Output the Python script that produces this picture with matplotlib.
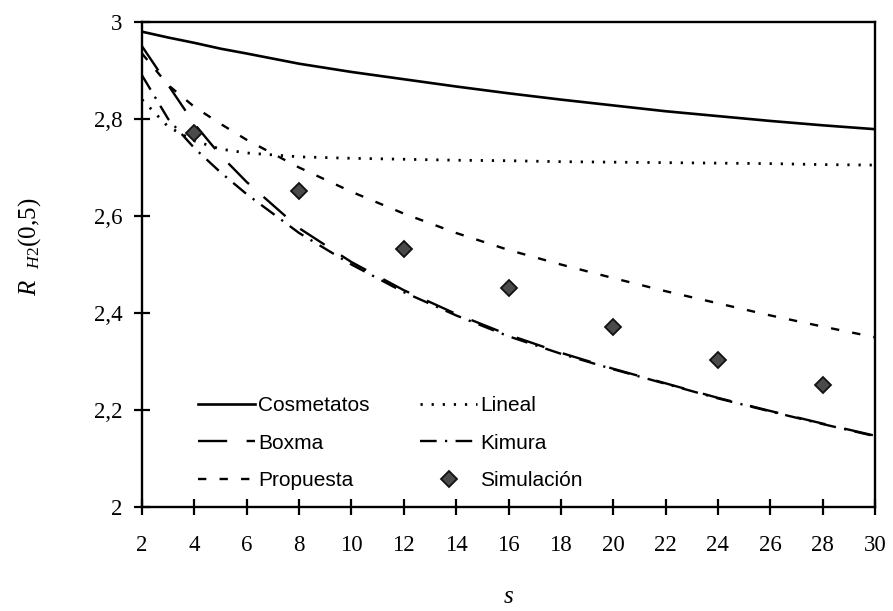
import matplotlib
matplotlib.use("Agg")
import matplotlib.pyplot as plt

s_vals = [2, 3, 4, 5, 6, 8, 10, 12, 14, 16, 18, 20, 22, 24, 26, 28, 30]
cosmetatos = [2.980, 2.968, 2.957, 2.945, 2.935, 2.914, 2.897, 2.882, 2.867, 2.853,
              2.840, 2.828, 2.816, 2.806, 2.796, 2.787, 2.779]
lineal = [2.840, 2.784, 2.755, 2.738, 2.730, 2.722, 2.719, 2.717, 2.715, 2.714,
          2.712, 2.711, 2.710, 2.709, 2.708, 2.706, 2.705]
boxma = [2.950, 2.870, 2.790, 2.725, 2.670, 2.575, 2.505, 2.447, 2.398, 2.355,
         2.318, 2.285, 2.255, 2.225, 2.198, 2.172, 2.147]
kimura = [2.890, 2.800, 2.740, 2.690, 2.645, 2.565, 2.500, 2.443, 2.395, 2.352,
          2.316, 2.284, 2.254, 2.224, 2.197, 2.171, 2.146]
propuesta = [2.935, 2.870, 2.825, 2.790, 2.757, 2.700, 2.650, 2.605, 2.565, 2.530,
             2.500, 2.472, 2.445, 2.420, 2.395, 2.372, 2.350]
sim_s = [4, 8, 12, 16, 20, 24, 28]
simulacion = [2.772, 2.652, 2.532, 2.452, 2.372, 2.303, 2.252]

x_ticks = list(range(2, 31, 2))
y_ticks = [2, 2.2, 2.4, 2.6, 2.8, 3]
y_ticklabels = ["2", "2,2", "2,4", "2,6", "2,8", "3"]

plt.rcParams['lines.scale_dashes'] = False
plt.rcParams['mathtext.fontset'] = 'custom'
plt.rcParams['mathtext.rm'] = 'Liberation Serif'
plt.rcParams['mathtext.it'] = 'Liberation Serif:italic'

fig = plt.figure(figsize=(8.93, 6.11), dpi=100)
ax = fig.add_axes([142/893, 1-507/611, (875-142)/893, (507-22)/611])

lw = 1.7
ax.plot(s_vals, cosmetatos, color='black', lw=lw + 0.2, ls='-', label='Cosmetatos')
ax.plot(s_vals, boxma, color='black', lw=lw, ls=(0, (21, 14)), label='Boxma')
ax.plot(s_vals, propuesta, color='black', lw=lw, ls=(0, (6, 9.5)), label='Propuesta')
ax.plot(s_vals, lineal, color='black', lw=lw + 0.3, ls=(0, (1.6, 6.4)), label='Lineal')
ax.plot(s_vals, kimura, color='black', lw=lw, ls=(0, (12, 6, 1.6, 6)), label='Kimura')
ax.plot(sim_s, simulacion, ls='none', marker='D', markersize=8.6,
        markerfacecolor='#4a4a4a', markeredgecolor='#111111', markeredgewidth=1.3,
        label='Simulación')

ax.set_xlim(2, 30)
ax.set_ylim(2, 3)
ax.set_xticks(x_ticks)
ax.set_xticklabels([str(v) for v in x_ticks])
ax.set_yticks(y_ticks)
ax.set_yticklabels(y_ticklabels)

for sp in ax.spines.values():
    sp.set_linewidth(1.7)
    sp.set_color('black')

ax.tick_params(axis='both', direction='inout', length=12, width=1.6,
               labelsize=16.5, colors='black')
ax.tick_params(axis='x', pad=14)
ax.tick_params(axis='y', pad=8)
for lab in ax.get_xticklabels() + ax.get_yticklabels():
    lab.set_family('Liberation Serif')

ax.set_xlabel('s', fontsize=18, family='Liberation Serif', style='italic')
ax.xaxis.set_label_coords(0.5, -0.163)
ax.set_ylabel(r'$\mathit{R}\ \ _{\mathit{H2}}\mathrm{(0{,}5)}$', fontsize=18)
ax.yaxis.set_label_coords(-0.135, 0.536)

handles, labels = ax.get_legend_handles_labels()
leg = ax.legend(handles, labels, ncol=2, loc='upper left',
                bbox_to_anchor=((198-142)/733, (507-396)/485),
                frameon=False, borderpad=0, borderaxespad=0,
                handlelength=2.75, handletextpad=0.15, columnspacing=2.4,
                labelspacing=0.9, prop={'family': 'Liberation Sans', 'size': 15})

fig.savefig('out.png', dpi=100)
